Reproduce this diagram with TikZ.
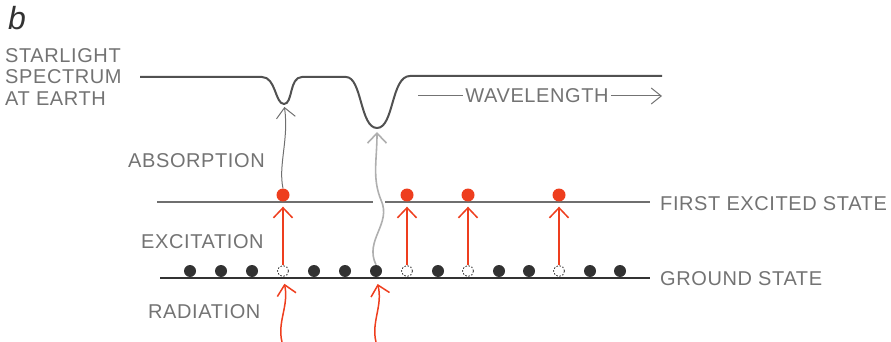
\documentclass[tikz,border=0pt]{standalone}
\usepackage{fontspec}
\setmainfont{Liberation Sans}
\newfontfamily\capsfont[LetterSpace=3]{Liberation Sans}
\usetikzlibrary{arrows.meta,positioning}
\definecolor{ink}{RGB}{50,50,50}
\definecolor{labelgray}{RGB}{115,115,115}
\definecolor{excred}{RGB}{238,62,30}
\definecolor{lightgray}{RGB}{175,175,175}
\tikzset{
  lbl/.style={font=\capsfont\fontsize{20}{21.5}\selectfont, text=labelgray, inner sep=0pt, anchor=west, align=left},
  atom/.style={circle, fill=ink, minimum size=12pt, inner sep=0pt},
  hole/.style={circle, draw=ink, line width=0.8pt, dash pattern=on 1.6pt off 1.6pt, fill=white, minimum size=11pt, inner sep=0pt},
  excited/.style={circle, fill=excred, minimum size=13pt, inner sep=0pt},
  level/.style={line width=1.5pt, ink!70},
  spectrum/.style={line width=2pt, ink!85, line join=round},
  barb/.style={-{Straight Barb[length=10pt,width=19pt]}},
  uparrow/.style={barb, excred, line width=1.5pt, shorten >=5pt},
  photon/.style={barb, excred, line width=1.5pt, shorten >=7pt},
  emitted/.style={barb, ink!70, line width=1pt, shorten >=3pt},
  fainted/.style={barb, lightgray, line width=1.6pt, shorten >=4pt},
  axis/.style={labelgray, line width=1pt}
}
\begin{document}
\begin{tikzpicture}[x=1pt, y=-1pt]
  \useasboundingbox (0,0) rectangle (891,342);

  % labels
  \node[anchor=west, inner sep=0pt, font=\itshape\fontsize{32}{32}\selectfont, text=ink] (fig) at (8,18) {b};
  \node[lbl] (star) at (5,77) {STARLIGHT\\SPECTRUM\\AT EARTH};
  \node[lbl] (absorb) at (128,161) {ABSORPTION};
  \node[lbl] (excite) at (141,242) {EXCITATION};
  \node[lbl] (radiate) at (148,312) {RADIATION};
  \node[lbl] (firstlbl) at (660,204) {FIRST EXCITED STATE};
  \node[lbl] (groundlbl) at (660,279) {GROUND STATE};

  % spectrum with two absorption dips
  \coordinate (dip1) at (284,104);
  \coordinate (dip2) at (377,128);
  \draw[spectrum] (140,77) -- (262,77)
    .. controls (276,77) and (275,104) .. (dip1)
    .. controls (293,104) and (289,77) .. (302,77) -- (346,77)
    .. controls (362,77) and (360,128) .. (dip2)
    .. controls (394,128) and (391,76) .. (410,76) -- (662,76);

  \node[lbl, anchor=center] (wl) at (537,96) {WAVELENGTH};
  \coordinate (wl-l) at (418,96);
  \coordinate (wl-r) at (662,96);
  \draw[axis] (wl-l) -- ([xshift=-2pt]wl.west);
  \draw[axis, -{Straight Barb[length=10pt,width=16pt]}] ([xshift=2pt]wl.east) -- (wl-r);

  % energy levels
  \coordinate (exc-l) at (157,202);
  \coordinate (exc-gl) at (373,202);
  \coordinate (exc-gr) at (385,202);
  \coordinate (exc-r) at (650,202);
  \coordinate (gnd-l) at (160,278);
  \coordinate (gnd-r) at (650,278);
  \draw[level] (exc-l) -- (exc-gl);
  \draw[level] (exc-gr) -- (exc-r);
  \draw[level, ink, line width=1.7pt] (gnd-l) -- (gnd-r);

  % atoms on the ground state
  \foreach \x/\s [count=\i] in {190/atom,221/atom,252/atom,283/hole,314/atom,345/atom,376/atom,407/hole,438/atom,468/hole,499/atom,529/atom,559/hole,590/atom,620/atom}
    \node[\s] (g\i) at (\x,271) {};

  % excited atoms
  \foreach \i in {4,8,10,13} {
    \node[excited] (e\i) at (g\i |- 0,195) {};
    \draw[uparrow] (g\i.north) -- (e\i.south);
  }

  % incoming radiation
  \coordinate (rad1) at (282,342);
  \coordinate (rad2) at (376,342);
  \draw[photon] (rad1) .. controls (277,322) and (289,306) .. (g4.south);
  \draw[photon] (rad2) .. controls (371,322) and (383,306) .. (g7.south);

  % re-emitted light absorbed in the spectrum
  \draw[emitted] (e4.north) .. controls (278,165) and (289,140) .. (dip1);
  \draw[fainted] (g7.north) .. controls (364,240) and (392,224) .. (381,200)
    .. controls (372,178) and (377,160) .. (dip2);
\end{tikzpicture}
\end{document}
